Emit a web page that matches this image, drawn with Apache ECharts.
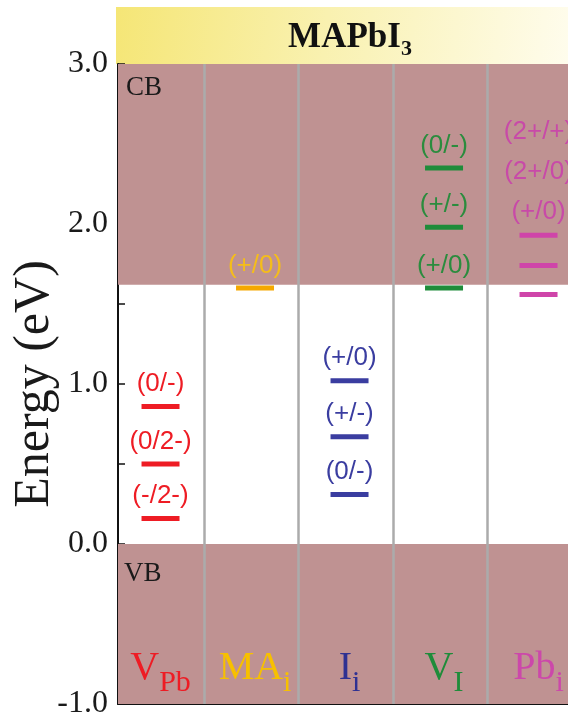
<!DOCTYPE html>
<html><head><meta charset="utf-8">
<script src="https://cdn.jsdelivr.net/npm/echarts/dist/echarts.min.js"></script>
<style>html,body{margin:0;padding:0;background:#fff}#c{width:568px;height:724px}</style>
</head><body><div id="c"></div>
<script>
// ---- data ----
const defectMain = ['V', 'MA', 'I', 'V', 'Pb'];
const defectSub = ['Pb', 'i', 'i', 'I', 'i'];
const lineColors = ['#ee1c24', '#f5a800', '#3a3da0', '#1f8c3a', '#cf45a9'];
const textColors = ['#ee1c24', '#f5bd1a', '#3a3da0', '#2b8c3e', '#c84aa8'];
const catColors = ['#ee1c24', '#f7c000', '#2e3192', '#1f8c3a', '#cc48aa'];

const vpbEnergies = [0.86, 0.50, 0.16];
const vpbLabels = ['(0/-)', '(0/2-)', '(-/2-)'];
const maiEnergies = [1.60];
const maiLabels = ['(+/0)'];
const iiEnergies = [1.02, 0.67, 0.31];
const iiLabels = ['(+/0)', '(+/-)', '(0/-)'];
const viEnergies = [2.35, 1.98, 1.60];
const viLabels = ['(0/-)', '(+/-)', '(+/0)'];
const pbiEnergies = [1.93, 1.74, 1.56];
const pbiLabels = ['(2+/+)', '(2+/0)', '(+/0)'];  // stacked above the levels

const cbMin = 1.62, cbMax = 3.0;
const vbMin = -1.0, vbMax = 0.0;
const bandNames = ['CB', 'VB'];
const yTickLabels = ['-1.0', '0.0', '1.0', '2.0', '3.0'];
const yName = 'Energy (eV)';
const materialMain = 'MAPbI';
const materialSub = '3';

// ---- layout ----
const yMin = -1, yMax = 3, xMin = 0.09, xMax = 5;
const colShift = 0.54;
const catLabelY = -0.65;
const serif = 'Liberation Serif', sans = 'Liberation Sans';

const levelSets = [
  [vpbEnergies, vpbLabels],
  [maiEnergies, maiLabels],
  [iiEnergies, iiLabels],
  [viEnergies, viLabels],
  [pbiEnergies, null]
];

const series = [];
// background bands
series.push({
  type: 'scatter', data: [], silent: true, z: 1,
  markArea: {
    silent: true,
    itemStyle: { color: '#bf9292', opacity: 1 },
    label: { show: true, position: 'insideTopLeft', distance: 0, fontFamily: serif, fontSize: 27, color: '#1a1a1a' },
    data: [
      [{ yAxis: cbMax, name: bandNames[0], label: { offset: [8, 10] } }, { yAxis: cbMin }],
      [{ yAxis: vbMax, name: bandNames[1], label: { offset: [6, 16] } }, { yAxis: vbMin }]
    ]
  }
});
// column separators
series.push({
  type: 'scatter', data: [], silent: true, z: 2,
  markLine: {
    silent: true, symbol: 'none', label: { show: false },
    lineStyle: { color: '#ababab', width: 2.5, type: 'solid', opacity: 1 },
    data: [1, 2, 3, 4].map(v => ({ xAxis: v }))
  }
});
// defect levels
levelSets.forEach(([en, lab], i) => {
  let data;
  if (lab) {
    data = en.map((e, k) => ({ value: [i + colShift, e], label: { formatter: lab[k] } }));
  } else {
    const top = Math.max(...en);
    data = en.map(e => ({
      value: [i + colShift, e],
      label: e === top ? { formatter: pbiLabels.join('\n'), lineHeight: 40, distance: 1 } : { show: false }
    }));
  }
  series.push({
    type: 'scatter', z: 5, silent: true, animation: false,
    symbol: 'rect', symbolSize: [38, 5],
    itemStyle: { color: lineColors[i], opacity: 1 },
    label: { show: true, position: 'top', distance: 6, fontFamily: sans, fontSize: 26, lineHeight: 28, color: textColors[i] },
    data
  });
});
// category labels
series.push({
  type: 'custom', z: 6, silent: true, animation: false,
  data: defectMain.map((m, i) => [i + colShift, catLabelY, i]),
  renderItem: (params, api) => {
    const i = api.value(2);
    const p = api.coord([api.value(0), api.value(1)]);
    return {
      type: 'text', x: p[0], y: p[1],
      style: {
        text: '{m|' + defectMain[i] + '}{s|' + defectSub[i] + '}',
        align: 'center', verticalAlign: 'top',
        rich: {
          m: { fontFamily: serif, fontSize: 40, lineHeight: 40, verticalAlign: 'top', fill: catColors[i] },
          s: { fontFamily: serif, fontSize: 30, lineHeight: 30, verticalAlign: 'top', padding: [20, 0, 0, 0], fill: catColors[i] }
        }
      }
    };
  }
});

const option = {
  animation: false,
  backgroundColor: '#ffffff',
  grid: { left: 118, right: -14, top: 64, bottom: 20, containLabel: false, outerBoundsMode: 'none' },
  xAxis: {
    type: 'value', min: xMin, max: xMax,
    axisLine: { show: true, onZero: false, lineStyle: { color: '#111', width: 2 } },
    axisTick: { show: false }, axisLabel: { show: false }, splitLine: { show: false }
  },
  yAxis: {
    type: 'value', min: yMin, max: yMax, interval: 0.5,
    name: yName, nameLocation: 'middle', nameGap: 58, nameMoveOverlap: false,
    nameTextStyle: { fontFamily: serif, fontSize: 50, color: '#1a1a1a' },
    axisLine: { show: true, lineStyle: { color: '#111', width: 2 } },
    axisTick: { show: true, inside: true, length: 7, lineStyle: { color: '#111', width: 1.5 } },
    axisLabel: {
      show: true, margin: 10, fontFamily: serif, fontSize: 32, color: '#1a1a1a',
      showMinLabel: true, showMaxLabel: true,
      formatter: v => {
        const idx = Math.round(v - yMin);
        return Math.abs(v - Math.round(v)) < 1e-6 ? yTickLabels[idx] : '';
      }
    },
    splitLine: { show: false }
  },
  series
};

const chart = echarts.init(document.getElementById('c'), null, { renderer: 'canvas' });
chart.setOption(option);
const tl = chart.convertToPixel({ gridIndex: 0 }, [xMin, yMax]);
const br = chart.convertToPixel({ gridIndex: 0 }, [xMax, yMax]);
chart.setOption({
  graphic: [
    {
      type: 'rect', z: 0, silent: true,
      shape: { x: tl[0] - 2, y: 7, width: br[0] - tl[0] + 2, height: tl[1] - 7 },
      style: {
        fill: new echarts.graphic.LinearGradient(0, 0, 1, 1, [
          { offset: 0, color: '#f5e676' },
          { offset: 0.45, color: '#f9f1b0' },
          { offset: 1, color: '#fffdf0' }
        ])
      }
    },
    {
      type: 'text', z: 10, silent: true,
      x: (tl[0] + br[0]) / 2, y: 20,
      style: {
        text: '{m|' + materialMain + '}{s|' + materialSub + '}',
        align: 'center', verticalAlign: 'top',
        rich: {
          m: { fontFamily: serif, fontWeight: 'bold', fontSize: 35, lineHeight: 35, verticalAlign: 'top', fill: '#111' },
          s: { fontFamily: serif, fontWeight: 'bold', fontSize: 22, lineHeight: 22, verticalAlign: 'top', padding: [18, 0, 0, 0], fill: '#111' }
        }
      }
    }
  ]
});
</script>
</body></html>
